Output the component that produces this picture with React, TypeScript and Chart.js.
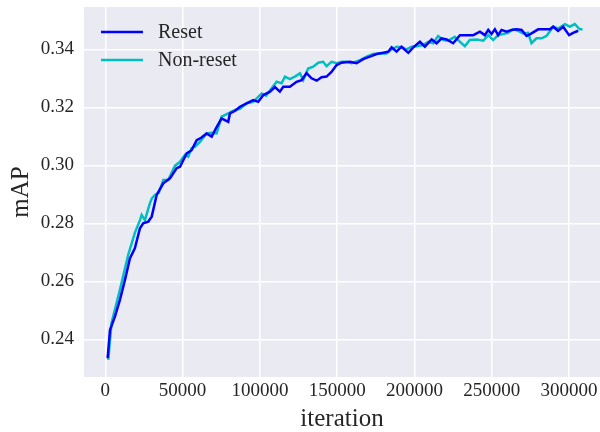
import React, { useEffect, useRef } from 'react';
import { Chart, registerables } from 'chart.js';

Chart.register(...registerables);

// ---- data ----
const resetIter = [
  1500, 3000, 6200, 9400, 12700, 15900, 19100, 22400, 24500, 27800, 30000, 33200, 37500, 41800,
  46100, 48300, 52600, 55800, 59100, 62000, 65500, 68800, 72000, 75200, 79500, 80600, 84000,
  87100, 91400, 95700, 98900, 102100, 106500, 109700, 112900, 115100, 119400, 123700, 127000,
  130200, 133400, 136700, 139900, 143100, 146300, 149600, 152800, 158200, 162500, 166800, 171100,
  175500, 179800, 183000, 185200, 188400, 191600, 196000, 199200, 203500, 206700, 211100, 214300,
  217500, 220800, 225000, 229400, 233700, 238000, 242300, 245500, 247700, 249800, 252000, 254100,
  256300, 259600, 262800, 266000, 269300, 272500, 275700, 280000, 283200, 287600, 289700, 292900,
  296200, 300000, 302600, 305900,
];
const resetMAP = [
  0.2335, 0.2432, 0.2478, 0.2535, 0.2605, 0.2679, 0.2714, 0.2783, 0.28, 0.2806, 0.2823, 0.2898,
  0.2938, 0.2955, 0.299, 0.2995, 0.3041, 0.3052, 0.3087, 0.3095, 0.311, 0.3099, 0.3132, 0.3162,
  0.315, 0.3179, 0.3188, 0.3202, 0.3214, 0.3225, 0.3219, 0.3242, 0.3254, 0.327, 0.3254, 0.3271,
  0.3271, 0.3288, 0.3294, 0.3318, 0.33, 0.3292, 0.3304, 0.3306, 0.3322, 0.3346, 0.3354, 0.3357,
  0.3352, 0.3366, 0.3375, 0.3384, 0.3388, 0.3392, 0.3407, 0.3392, 0.3409, 0.3388, 0.3407, 0.3426,
  0.3409, 0.3434, 0.3421, 0.3438, 0.3434, 0.3421, 0.3449, 0.3449, 0.3449, 0.3461, 0.3449, 0.3467,
  0.3453, 0.3469, 0.3449, 0.3467, 0.3461, 0.3467, 0.3469, 0.3467, 0.3446, 0.3455, 0.3469, 0.3469,
  0.3469, 0.3478, 0.3464, 0.3478, 0.3449, 0.3457, 0.3464,
];
const nonResetIter = [
  1900, 4000, 9400, 14800, 19100, 22400, 23500, 25600, 28800, 30100, 32100, 34500, 37500, 40700,
  45000, 48300, 51500, 53600, 55800, 58000, 61200, 65500, 68800, 72000, 75200, 79500, 83800,
  87100, 91400, 95700, 101100, 104000, 107600, 110800, 114000, 116200, 119400, 122600, 125900,
  128000, 131200, 134500, 137700, 140900, 143100, 146300, 149600, 153000, 156100, 159300, 164700,
  169000, 173300, 177600, 181900, 185200, 188400, 191600, 194900, 198100, 201400, 205600, 208900,
  212100, 215300, 218600, 221800, 226100, 229400, 232600, 235800, 240200, 244500, 247700, 250900,
  254100, 257400, 260600, 263800, 267100, 270300, 273500, 275700, 278900, 282200, 285400, 289700,
  292900, 297300, 300500, 303700, 306900, 308700,
];
const nonResetMAP = [
  0.2329, 0.2456, 0.257, 0.2691, 0.2767, 0.2811, 0.2829, 0.2811, 0.2869, 0.2886, 0.2898, 0.2905,
  0.2949, 0.2949, 0.2998, 0.3012, 0.3036, 0.303, 0.3059, 0.3064, 0.3081, 0.311, 0.3112, 0.311,
  0.3168, 0.3179, 0.3191, 0.3195, 0.3214, 0.3219, 0.3248, 0.324, 0.3266, 0.3288, 0.3283, 0.3306,
  0.3297, 0.3306, 0.3317, 0.3294, 0.3334, 0.334, 0.3354, 0.3357, 0.3342, 0.3357, 0.3352, 0.3357,
  0.3357, 0.3352, 0.3363, 0.3375, 0.3384, 0.3386, 0.3386, 0.34, 0.3409, 0.3407, 0.34, 0.3409,
  0.3411, 0.3415, 0.3426, 0.3421, 0.3446, 0.3432, 0.343, 0.3443, 0.3426, 0.3411, 0.3432, 0.3434,
  0.343, 0.3449, 0.3432, 0.3449, 0.3453, 0.3457, 0.3469, 0.3464, 0.3455, 0.3457, 0.3421, 0.3438,
  0.3438, 0.3446, 0.3478, 0.3472, 0.3487, 0.3478, 0.3487, 0.3469, 0.3469,
];
const seriesNames = ['Reset', 'Non-reset'];
const seriesColors = ['#0000FF', '#00BFBF'];
const xTicks = [0, 50000, 100000, 150000, 200000, 250000, 300000];
const yTicks = [0.24, 0.26, 0.28, 0.3, 0.32, 0.34];
const xTitle = 'iteration';
const yTitle = 'mAP';

const FONT = '"Liberation Serif", "Times New Roman", serif';
const TEXT = '#262626';

const bgPlugin = {
  id: 'axesBg',
  beforeDraw(chart: any) {
    const { ctx, chartArea } = chart;
    if (!chartArea) return;
    ctx.save();
    ctx.fillStyle = '#EAEAF2';
    ctx.fillRect(chartArea.left, chartArea.top, chartArea.right - chartArea.left, chartArea.bottom - chartArea.top);
    ctx.restore();
  },
};

const legendPlugin = {
  id: 'insideLegend',
  afterDraw(chart: any) {
    const { ctx, chartArea } = chart;
    const x0 = chartArea.left + 17;
    const lineLen = 42;
    const y0 = chartArea.top + 25;
    const rowH = 28;
    ctx.save();
    ctx.font = `20px ${FONT}`;
    ctx.textBaseline = 'middle';
    ctx.textAlign = 'left';
    chart.data.datasets.forEach((ds: any, i: number) => {
      const y = y0 + i * rowH;
      ctx.strokeStyle = ds.borderColor;
      ctx.lineWidth = ds.borderWidth;
      ctx.beginPath();
      ctx.moveTo(x0, y);
      ctx.lineTo(x0 + lineLen, y);
      ctx.stroke();
      ctx.fillStyle = TEXT;
      ctx.fillText(ds.label, x0 + lineLen + 15, y + 1);
    });
    ctx.restore();
  },
};

export default function App() {
  const ref = useRef<HTMLCanvasElement | null>(null);

  useEffect(() => {
    if (!ref.current) return;
    const mk = (xs: number[], ys: number[]) => xs.map((x, i) => ({ x, y: ys[i] }));
    const chart = new Chart(ref.current, {
      type: 'line',
      data: {
        datasets: [
          {
            label: seriesNames[0],
            data: mk(resetIter, resetMAP),
            borderColor: seriesColors[0],
            backgroundColor: seriesColors[0],
            borderWidth: 2.5,
            pointRadius: 0,
            tension: 0,
          },
          {
            label: seriesNames[1],
            data: mk(nonResetIter, nonResetMAP),
            borderColor: seriesColors[1],
            backgroundColor: seriesColors[1],
            borderWidth: 2.5,
            pointRadius: 0,
            tension: 0,
          },
        ],
      },
      options: {
        responsive: false,
        animation: false,
        layout: { padding: { top: 7, left: 0, right: 0, bottom: 0 } },
        plugins: { legend: { display: false }, tooltip: { enabled: false } },
        scales: {
          x: {
            type: 'linear',
            min: -13800,
            max: 320000,
            afterBuildTicks: (s: any) => {
              s.ticks = xTicks.map((v) => ({ value: v }));
            },
            afterFit: (s: any) => {
              s.height = 55;
              s.paddingLeft = 0;
              s.paddingRight = 0;
            },
            grid: { color: '#FFFFFF', lineWidth: 1.5, drawTicks: false },
            border: { display: false },
            ticks: {
              font: { family: FONT, size: 19 },
              color: TEXT,
              padding: 3,
              maxRotation: 0,
              callback: (v: any) => String(v),
            },
            title: {
              display: true,
              text: xTitle,
              font: { family: FONT, size: 25, lineHeight: 1 },
              color: TEXT,
              padding: { top: 0, bottom: 0 },
            },
          },
          y: {
            type: 'linear',
            min: 0.227,
            max: 0.3546,
            afterBuildTicks: (s: any) => {
              s.ticks = yTicks.map((v) => ({ value: v }));
            },
            afterFit: (s: any) => {
              s.width = 84;
              s.paddingTop = 0;
              s.paddingBottom = 0;
            },
            grid: { color: '#FFFFFF', lineWidth: 1.5, drawTicks: false },
            border: { display: false },
            ticks: {
              font: { family: FONT, size: 19 },
              color: TEXT,
              padding: 10,
              callback: (v: any) => Number(v).toFixed(2),
            },
            title: {
              display: true,
              text: yTitle,
              font: { family: FONT, size: 25, lineHeight: 1 },
              color: TEXT,
              padding: { top: 9, bottom: 0 },
            },
          },
        },
      },
      plugins: [bgPlugin, legendPlugin],
    } as any);
    return () => chart.destroy();
  }, []);

  return (
    <div style={{ position: 'absolute', left: 0, top: 0, width: 600, height: 432, background: '#fff' }}>
      <canvas ref={ref} width={600} height={432} style={{ display: 'block' }} />
    </div>
  );
}
